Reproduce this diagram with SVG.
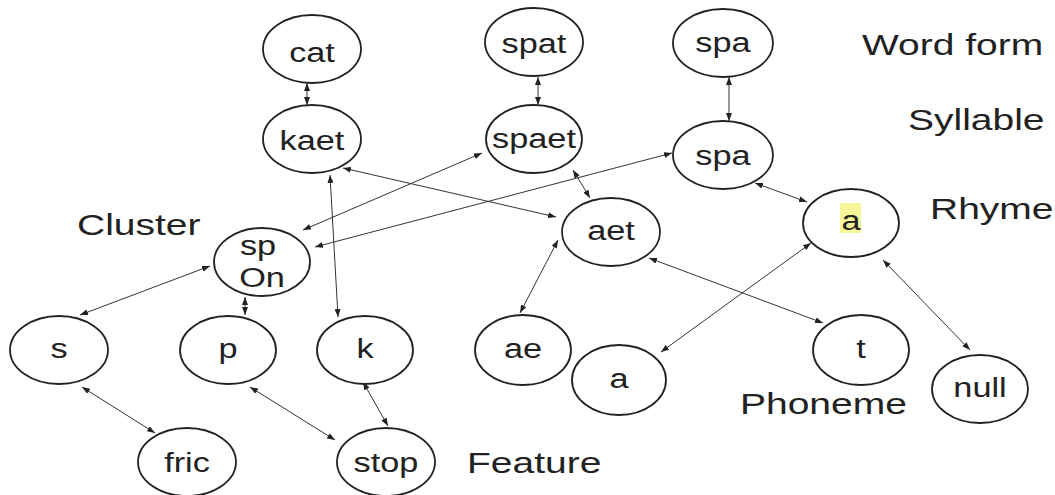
<svg xmlns="http://www.w3.org/2000/svg" width="1055" height="495" viewBox="0 0 1055 495">
  <defs>
    <marker id="tip" viewBox="0 0 8 6" refX="8" refY="3" markerWidth="8" markerHeight="6" markerUnits="userSpaceOnUse" orient="auto-start-reverse">
      <path d="M0,0 L8,3 L0,6 z" fill="#222"/>
    </marker>
  </defs>
  <style>
    .node ellipse { fill: #fff; stroke: #222; stroke-width: 1.8; }
    .node text { font-family: "Liberation Sans", Arial, sans-serif; font-size: 27px; fill: #222; text-anchor: middle; }
    .level { font-family: "Liberation Sans", Arial, sans-serif; font-size: 30px; fill: #222; }
    #links line { stroke: #333; stroke-width: 1; marker-start: url(#tip); marker-end: url(#tip); }
  </style>
  <rect width="1055" height="495" fill="#fff"/>

  <!-- level captions -->
  <g id="levels">
    <text class="level" transform="translate(862,55) scale(1.3,1)">Word form</text>
    <text class="level" transform="translate(908,130) scale(1.3,1)">Syllable</text>
    <text class="level" transform="translate(930,219) scale(1.3,1)">Rhyme</text>
    <text class="level" transform="translate(77,235) scale(1.3,1)">Cluster</text>
    <text class="level" transform="translate(740,414) scale(1.3,1)">Phoneme</text>
    <text class="level" transform="translate(467,473) scale(1.3,1)">Feature</text>
  </g>

  <!-- bidirectional links between units -->
  <g id="links">
    <line x1="307" y1="83" x2="307" y2="105"/>
    <line x1="538" y1="77" x2="538" y2="105"/>
    <line x1="729" y1="77" x2="729" y2="121"/>
    <line x1="330" y1="175" x2="338" y2="317"/>
    <line x1="343" y1="168" x2="556" y2="217"/>
    <line x1="482" y1="153" x2="303" y2="230"/>
    <line x1="672" y1="153" x2="315" y2="247"/>
    <line x1="573" y1="170" x2="590" y2="198"/>
    <line x1="755" y1="183" x2="807" y2="202"/>
    <line x1="210" y1="266" x2="80" y2="315"/>
    <line x1="245" y1="297" x2="245" y2="315"/>
    <line x1="82" y1="387" x2="155" y2="433"/>
    <line x1="250" y1="387" x2="335" y2="440"/>
    <line x1="363" y1="382" x2="388" y2="426"/>
    <line x1="558" y1="240" x2="520" y2="313"/>
    <line x1="649" y1="258" x2="823" y2="323"/>
    <line x1="811" y1="243" x2="661" y2="352"/>
    <line x1="883" y1="260" x2="970" y2="350"/>
  </g>

  <!-- word forms -->
  <g id="cat" class="node"><ellipse cx="312" cy="49" rx="49" ry="34"/><text transform="translate(312,62) scale(1.27,1)">cat</text></g>
  <g id="spat" class="node"><ellipse cx="534" cy="42" rx="49" ry="34"/><text transform="translate(534,53) scale(1.27,1)">spat</text></g>
  <g id="spa-word" class="node"><ellipse cx="723" cy="43" rx="50" ry="34"/><text transform="translate(723,52) scale(1.27,1)">spa</text></g>

  <!-- syllables -->
  <g id="kaet" class="node"><ellipse cx="312" cy="139" rx="49" ry="34"/><text transform="translate(312,150) scale(1.27,1)">kaet</text></g>
  <g id="spaet" class="node"><ellipse cx="534" cy="139" rx="48" ry="34"/><text transform="translate(534,148) scale(1.27,1)">spaet</text></g>
  <g id="spa-syllable" class="node"><ellipse cx="723" cy="155" rx="50" ry="34"/><text transform="translate(723,165) scale(1.27,1)">spa</text></g>

  <!-- rhymes and cluster -->
  <g id="a-rhyme" class="node"><ellipse cx="851" cy="223" rx="48" ry="34"/><rect x="840" y="203" width="21" height="30" fill="#f7f79a"/><text transform="translate(851,230) scale(1.27,1)">a</text></g>
  <g id="aet" class="node"><ellipse cx="611" cy="232" rx="49" ry="34"/><text transform="translate(611,240) scale(1.27,1)">aet</text></g>
  <g id="sp-on" class="node"><ellipse cx="262" cy="262" rx="48" ry="34"/><text transform="translate(258,255) scale(1.27,1)">sp</text><text transform="translate(262,287) scale(1.27,1)">On</text></g>

  <!-- phonemes -->
  <g id="s" class="node"><ellipse cx="59" cy="350" rx="49" ry="34"/><text transform="translate(59,358) scale(1.27,1)">s</text></g>
  <g id="p" class="node"><ellipse cx="228" cy="350" rx="48" ry="34"/><text transform="translate(228,358) scale(1.27,1)">p</text></g>
  <g id="k" class="node"><ellipse cx="365" cy="350" rx="48" ry="34"/><text transform="translate(365,358) scale(1.27,1)">k</text></g>
  <g id="ae" class="node"><ellipse cx="523" cy="350" rx="48" ry="35"/><text transform="translate(523,358) scale(1.27,1)">ae</text></g>
  <g id="a-phoneme" class="node"><ellipse cx="619" cy="380" rx="47" ry="35"/><text transform="translate(619,388) scale(1.27,1)">a</text></g>
  <g id="t" class="node"><ellipse cx="861" cy="350" rx="48" ry="35"/><text transform="translate(861,358) scale(1.27,1)">t</text></g>
  <g id="null" class="node"><ellipse cx="980" cy="389" rx="48" ry="34"/><text transform="translate(980,397) scale(1.27,1)">null</text></g>

  <!-- features -->
  <g id="fric" class="node"><ellipse cx="187" cy="462" rx="49" ry="34"/><text transform="translate(187,472) scale(1.27,1)">fric</text></g>
  <g id="stop" class="node"><ellipse cx="386" cy="462" rx="49" ry="34"/><text transform="translate(386,472) scale(1.27,1)">stop</text></g>
</svg>
